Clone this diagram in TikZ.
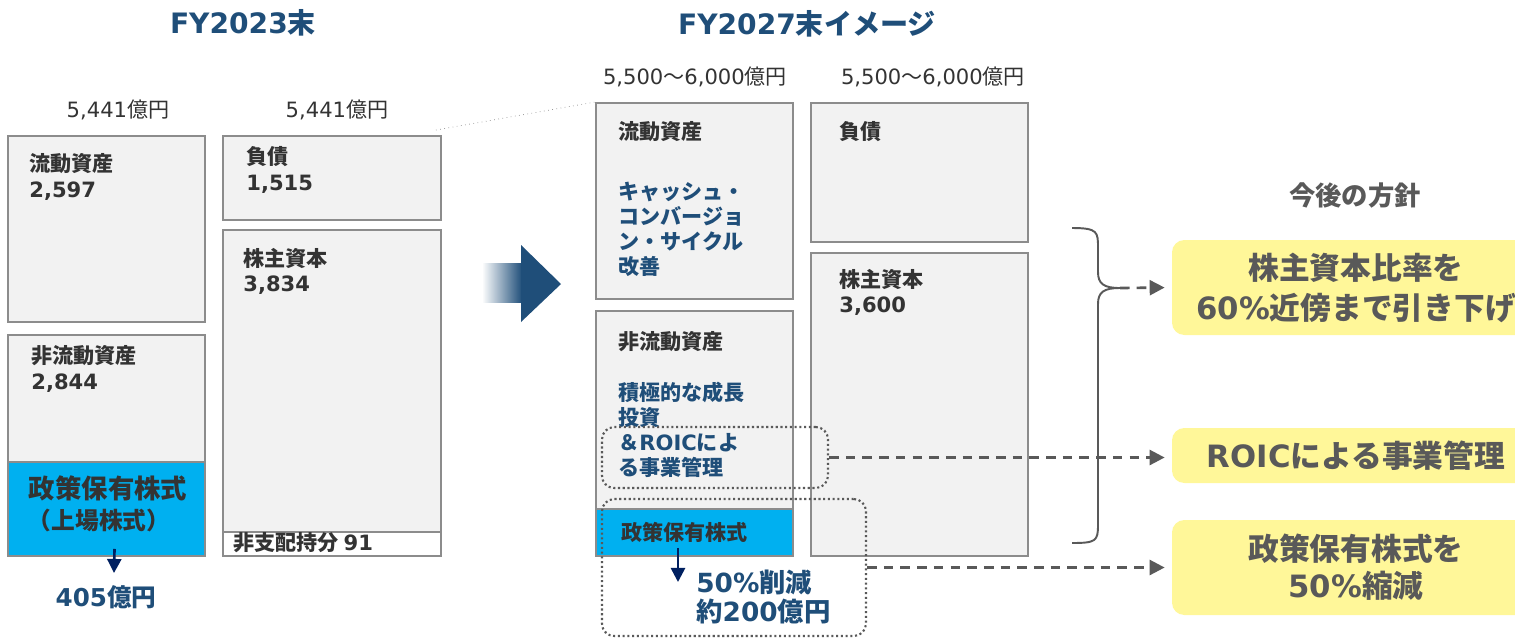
\documentclass[tikz,border=0pt]{standalone}
\usepackage{fontspec}
\setmainfont{Noto Sans CJK JP}
\newfontfamily\latfont{DejaVu Sans}
\newcommand{\latn}[1]{{\latfont #1}}
\usetikzlibrary{positioning,fit,calc,arrows.meta,fadings}

\definecolor{navy}{HTML}{1F4E79}
\definecolor{deepnavy}{HTML}{002060}
\definecolor{boxgray}{HTML}{F2F2F2}
\definecolor{edgegray}{HTML}{8C8C8C}
\definecolor{textgray}{HTML}{333333}
\definecolor{arrowgray}{HTML}{595959}
\definecolor{holdblue}{HTML}{00B0F0}
\definecolor{goalyellow}{HTML}{FFF799}

\tikzfading[name=fadeleft, left color=transparent!100, right color=transparent!0]

\tikzset{
  bsbox/.style={draw=edgegray, line width=1.1pt, fill=boxgray, inner sep=0pt},
  holdbox/.style={bsbox, fill=holdblue},
  lbl/.style={text=textgray, font=\fontsize{12}{14.7}\selectfont\bfseries, align=left, inner sep=0pt, anchor=west},
  total/.style={text=textgray, font=\fontsize{12}{14}\selectfont, inner sep=0pt},
  headline/.style={text=navy, font=\fontsize{16}{19}\selectfont\bfseries, inner sep=0pt},
  holdtxt/.style={text=textgray, font=\fontsize{15}{18}\selectfont\bfseries, inner sep=0pt},
  plan/.style={text=navy, font=\fontsize{12}{14.2}\selectfont\bfseries, align=left, inner sep=0pt, anchor=west},
  focus/.style={draw=arrowgray, line width=1.2pt, dash pattern=on 1.2pt off 1.5pt, rounded corners=7pt, inner sep=0pt},
  goal/.style={fill=goalyellow, rounded corners=7pt, inner sep=0pt},
  goaltxt/.style={text=arrowgray, font=\fontsize{17.5}{22.7}\selectfont\bfseries, align=center, inner sep=0pt},
  dasharrow/.style={draw=arrowgray, line width=1.5pt, dash pattern=on 5.5pt off 4pt, -{Triangle[length=8.5pt,width=8.5pt]}, shorten >=4pt},
  downarrow/.style={draw=deepnavy, line width=1.5pt, -{Triangle[length=8pt,width=8pt]}},
}

\begin{document}
\begin{tikzpicture}[x=0.02cm, y=-0.02cm]
\useasboundingbox (0,0) rectangle (1515,637);
\clip (0,0) rectangle (1515,637);

% FY2023
\node[headline] (t23) at (243,23) {\latn{FY2023}末};
\node[total] (s23a) at (118,110) {\latn{5,441}億円};
\node[total] (s23b) at (337,110) {\latn{5,441}億円};

\node[bsbox, fit={(8,136) (205,322)}] (ca23) {};
\node[lbl] (ca23-l) at (29,177) {流動資産\\\latn{2,597}};
\node[bsbox, fit={(8,335) (205,556)}] (nca23) {};
\node[lbl] (nca23-l) at (31,369) {非流動資産\\\latn{2,844}};
\node[holdbox, fit={(8,462) (205,556)}] (pol23) {};
\node[holdtxt] (pol23-l) at (108,488) {政策保有株式};
\node[holdtxt, font=\fontsize{13.5}{16}\selectfont\bfseries] (pol23-s) at (99,520) {（上場株式）};

\node[bsbox, fit={(223,136) (441,220)}] (liab23) {};
\node[lbl] (liab23-l) at (246,170) {負債\\\latn{1,515}};
\node[bsbox, fit={(223,230) (441,556)}] (eq23) {};
\node[lbl] (eq23-l) at (243,271.5) {株主資本\\\latn{3,834}};
\node[bsbox, fill=white, fit={(223,532) (441,556)}] (nci23) {};
\node[lbl] (nci23-l) at (233,543) {非支配持分 \latn{91}};

\node[headline, font=\fontsize{14}{17}\selectfont\bfseries] (amt23) at (106,597) {\latn{405}億円};
\draw[downarrow] ($(pol23.south)+(8,-8)$) -- ($(amt23.north)+(8,-12)$);

% arrow between the two years
\fill[navy, path fading=fadeleft] (482,263) rectangle (522,303);
\fill[navy] (521,245) -- (561,284) -- (521,322) -- cycle;

% FY2027
\node[headline] (t27) at (807,24) {\latn{FY2027}末イメージ};
\node[total] (s27a) at (695,77) {\latn{5,500}～\latn{6,000}億円};
\node[total] (s27b) at (933,77) {\latn{5,500}～\latn{6,000}億円};

\node[bsbox, fit={(596,103) (793,299)}] (ca27) {};
\node[lbl] (ca27-l) at (618,132) {流動資産};
\node[plan] (ca27-p) at (618,229) {キャッシュ・\\コンバージョ\\ン・サイクル\\改善};
\node[bsbox, fit={(596,311) (793,556)}] (nca27) {};
\node[lbl] (nca27-l) at (618,342) {非流動資産};
\node[plan] (nca27-p) at (618,430) {積極的な成長\\投資\\＆\latn{ROIC}によ\\る事業管理};
\node[holdbox, fit={(596,509) (793,556)}] (pol27) {};
\node[lbl] (pol27-l) at (621,532) {政策保有株式};

\node[bsbox, fit={(811,103) (1028,242)}] (liab27) {};
\node[lbl] (liab27-l) at (839,132) {負債};
\node[bsbox, fit={(811,253) (1028,556)}] (eq27) {};
\node[lbl] (eq27-l) at (839,292.5) {株主資本\\\latn{3,600}};

\draw[edgegray, line width=0.4pt, dotted] ($(liab23.north east)+(-6,-5)$) -- (ca27.north west);

\node[plan, font=\fontsize{15}{17}\selectfont\bfseries] (cutamt) at (696,597) {\latn{50\%}削減\\約\latn{200}億円};
\draw[downarrow] ($(pol27.south)+(-16.5,-9)$) -- ($(cutamt.west)+(-18,-15)$);

\node[focus, fit={(602,427) (828,488)}] (roic) {};
\node[focus, fit={(602,499) (866,636)}] (cut) {};

% policy
\node[holdtxt, text=arrowgray] (plan-t) at (1355,195) {今後の方針};
\node[goal, fit={(1172,240) (1540,335)}] (goal1) {};
\node[goaltxt] (goal1-t) at (goal1) {株主資本比率を\\\latn{60\%}近傍まで引き下げ};
\node[goal, fit={(1172,428) (1540,483)}] (goal2) {};
\node[goaltxt] (goal2-t) at (goal2) {\latn{ROIC}による事業管理};
\node[goal, fit={(1172,520) (1540,615)}] (goal3) {};
\node[goaltxt, font=\fontsize{17.5}{21}\selectfont\bfseries] (goal3-t) at (goal3) {政策保有株式を\\\latn{50\%}縮減};

\draw[arrowgray, line width=1.1pt] (1072,228) .. controls (1098,228) and (1098,232) .. (1098,248) -- (1098,272) .. controls (1098,284) and (1104,288) .. (1120,288) .. controls (1104,288) and (1098,292) .. (1098,304) -- (1098,525) .. controls (1098,541) and (1096,543) .. (1072,543);
\coordinate (bracetip) at (1120,288);
\draw[dasharrow] (bracetip) -- (goal1.west);
\draw[dasharrow] (roic.east) -- (roic.east -| goal2.west);
\draw[dasharrow] (cut.east) -- (cut.east -| goal3.west);

\end{tikzpicture}
\end{document}
